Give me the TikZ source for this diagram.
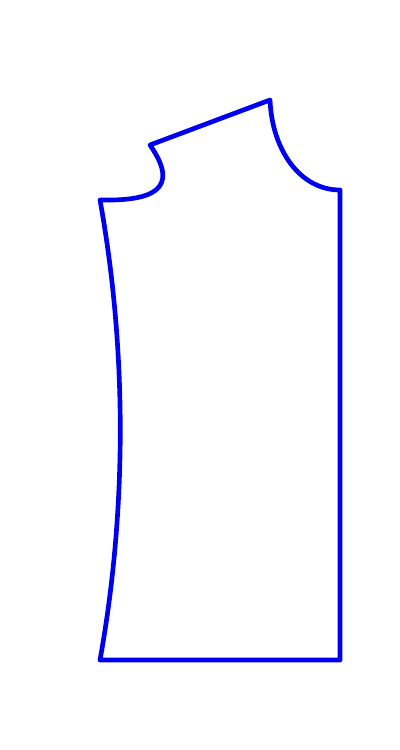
\documentclass[tikz,border=0pt]{standalone}
\tikzset{patternline/.style={draw={rgb,255:red,0;green,0;blue,240},line width=3.5pt,line join=round,line cap=round}}
\begin{document}
\begin{tikzpicture}[x=1pt,y=-1pt,scale=0.75]
\useasboundingbox (0,0) rectangle (400,750);
\coordinate (hb) at (100,660);
\coordinate (hr) at (340,660);
\coordinate (sr) at (340,190);
\coordinate (nk) at (270,100);
\coordinate (sh) at (150,145);
\coordinate (ar) at (100,200);
\draw[patternline] (hb) .. controls (127,510) and (127,350) .. (ar)
 .. controls (150,201) and (182,191) .. (sh)
 -- (nk) .. controls (272,150) and (300,190) .. (sr)
 -- (hr) -- cycle;
\end{tikzpicture}
\end{document}
